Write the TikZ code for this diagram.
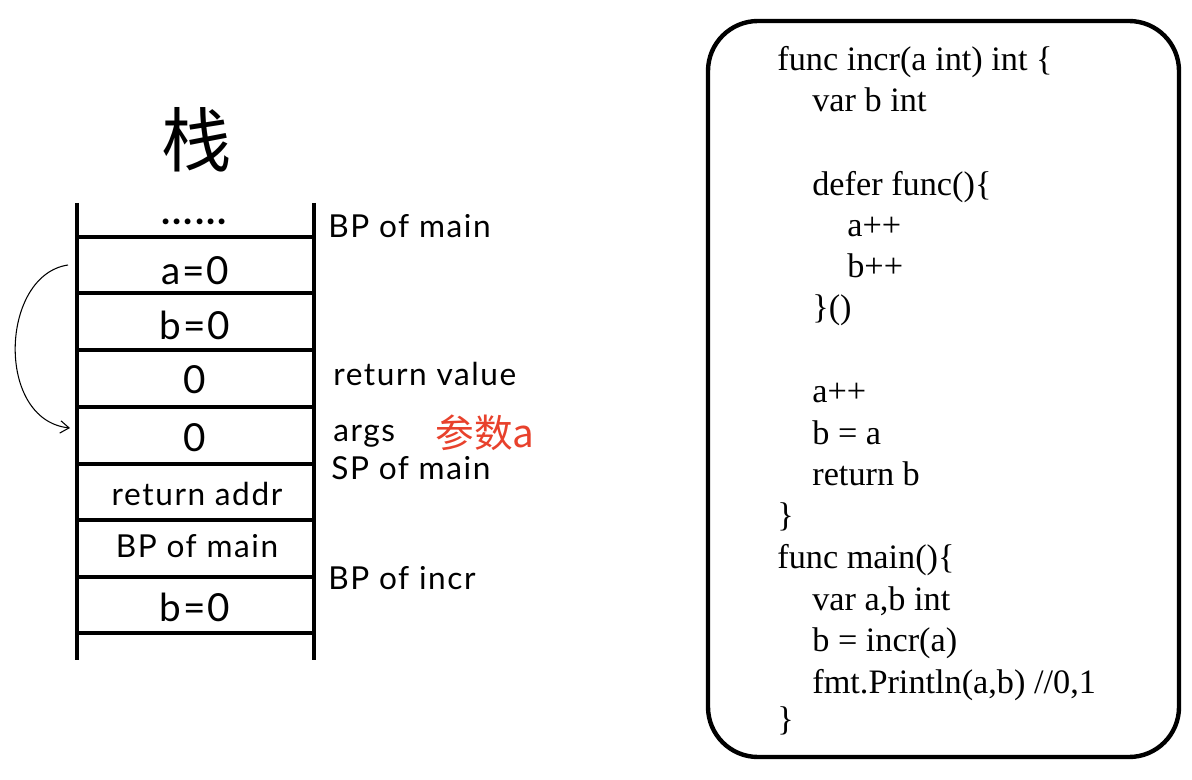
\documentclass[tikz,border=0pt]{standalone}
\usepackage{fontspec}
\setmainfont{Liberation Serif}
\newfontfamily\handfont[LetterSpace=5]{Lato}
\newfontfamily\cjkfont{Noto Sans CJK SC}
\usetikzlibrary{arrows.meta}
\definecolor{notered}{HTML}{E8412C}
\begin{document}
\begin{tikzpicture}[x=0.02cm,y=-0.02cm,
  cell/.style={font=\handfont\fontsize{22}{24}\selectfont,text height=16pt,text depth=0pt,inner sep=0pt},
  small/.style={font=\handfont\fontsize{18}{20}\selectfont,text height=13pt,text depth=3pt,inner sep=0pt},
  side/.style={small,anchor=west},
  code/.style={font=\fontsize{19.5}{22}\selectfont,text height=13pt,text depth=4pt,inner sep=0pt,anchor=west}]
\useasboundingbox (0,0) rectangle (1192,780);
% stack
\node[font=\cjkfont\fontsize{40}{40}\selectfont] (title) at (197,140) {栈};
\draw[line width=2pt] (77,203)--(77,660);
\draw[line width=2pt] (314,203)--(314,660);
\foreach \y in {237,293,350,407,464,520,577,633}
  \draw[line width=2pt] (77,\y)--(314,\y);
\node[cell] (c0) at (195,210) {\textbf{......}};
\node[cell] (c1) at (195,270) {a=0};
\node[cell] (c2) at (195,325) {b=0};
\node[cell] (c3) at (195,379) {0};
\node[cell] (c4) at (195,437) {0};
\node[small] (c5) at (197,497) {return addr};
\node[small] (c6) at (197,549) {BP of main};
\node[cell] (c7) at (195,607) {b=0};
% labels
\node[side] (bpmain) at (328,229) {BP of main};
\node[side] (retval) at (333,377) {return value};
\node[side] (args) at (333,433) {args};
\node[anchor=west,inner sep=0pt,text=notered,font=\cjkfont\fontsize{22}{24}\selectfont] (param) at (435,433) {参数a};
\node[side] (spmain) at (331,471) {SP of main};
\node[side] (bpincr) at (328,581) {BP of incr};
% arrow from a=0 to args
\coordinate (from) at (68,265);
\coordinate (to) at (70,428);
\draw[line width=0.6pt,-{Straight Barb[length=5pt,width=7pt]}] (from) .. controls (0,275) and (-5,420) .. (to);
% code box
\draw[line width=2.5pt,rounded corners=1cm] (708,21) rectangle (1179,757);
\foreach \y/\x/\t in {60/0/{func incr(a int) int \{},101/1/{var b int},
  185/1/{defer func()\{},226/2/{a++},267/2/{b++},308/1/{\}()},
  392/1/{a++},434/1/{b = a},475/1/{return b},516/0/{\}},
  558/0/{func main()\{},600/1/{var a,b int},641/1/{b = incr(a)},
  683/1/{fmt.Println(a,b) //0,1},720/0/{\}}}
  \node[code] (line\y) at (777+\x*35,\y+3) {\t};
\end{tikzpicture}
\end{document}
